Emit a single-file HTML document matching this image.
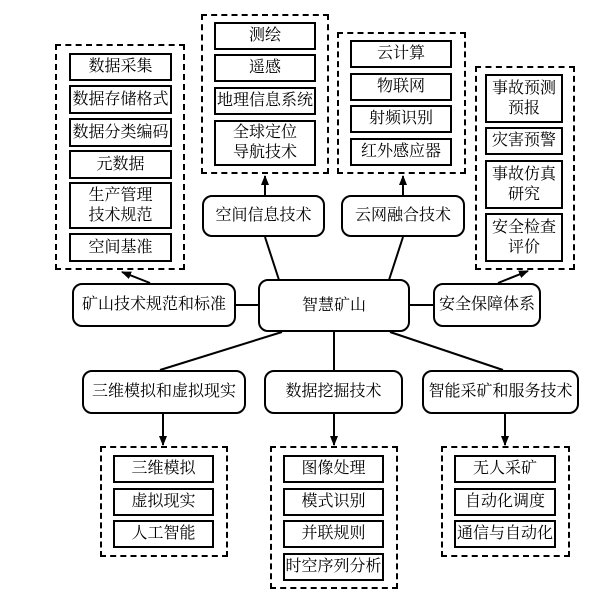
<!DOCTYPE html>
<html><head><meta charset="utf-8"><style>
body{margin:0;width:613px;height:597px;background:#fff;position:relative;overflow:hidden;font-family:"Liberation Serif","Noto Serif CJK SC",serif;color:#000}
.b{position:absolute;box-sizing:border-box;border:2px solid #000;display:flex;align-items:center;justify-content:center;text-align:center;font-size:16px;line-height:20px;background:#fff;white-space:nowrap}
.r{border-radius:10px;border-width:2px}
.d{position:absolute;box-sizing:border-box;border:2px dashed #000}
svg{position:absolute;left:0;top:0}
</style></head><body>
<svg width="613" height="597"><defs><marker id="a" markerWidth="10" markerHeight="10" refX="9" refY="5" orient="auto" markerUnits="userSpaceOnUse"><path d="M0,1 L10,5 L0,9z"/></marker></defs>
<g stroke="#000" stroke-width="2" fill="none">
<line x1="265" y1="195" x2="265" y2="176" marker-end="url(#a)"/>
<line x1="403" y1="195" x2="403" y2="176" marker-end="url(#a)"/>
<line x1="265" y1="237" x2="279" y2="280"/>
<line x1="403" y1="237" x2="389" y2="280"/>
<line x1="236" y1="305" x2="258" y2="305"/>
<line x1="410" y1="305" x2="433" y2="305"/>
<line x1="150" y1="283" x2="122" y2="272" marker-end="url(#a)"/>
<line x1="498" y1="283" x2="528" y2="271" marker-end="url(#a)"/>
<line x1="282" y1="332" x2="160" y2="370"/>
<line x1="334" y1="332" x2="334" y2="370"/>
<line x1="390" y1="332" x2="503" y2="370"/>
<line x1="163" y1="414" x2="163" y2="445" marker-end="url(#a)"/>
<line x1="334" y1="414" x2="334" y2="445" marker-end="url(#a)"/>
<line x1="505" y1="414" x2="505" y2="445" marker-end="url(#a)"/>
</g></svg>

<div class="d" style="left:55px;top:44px;width:130px;height:226px"></div>
<div class="b" style="left:69px;top:53px;width:103px;height:28px">数据采集</div>
<div class="b" style="left:69px;top:85px;width:103px;height:29px">数据存储格式</div>
<div class="b" style="left:69px;top:118px;width:103px;height:29px">数据分类编码</div>
<div class="b" style="left:69px;top:150px;width:103px;height:29px">元数据</div>
<div class="b" style="left:69px;top:182px;width:103px;height:47px">生产管理<br>技术规范</div>
<div class="b" style="left:69px;top:233px;width:103px;height:29px">空间基准</div>

<div class="d" style="left:201px;top:14px;width:128px;height:160px"></div>
<div class="b" style="left:214px;top:22px;width:102px;height:28px">测绘</div>
<div class="b" style="left:214px;top:54px;width:102px;height:28px">遥感</div>
<div class="b" style="left:214px;top:87px;width:102px;height:28px">地理信息系统</div>
<div class="b" style="left:214px;top:120px;width:102px;height:46px">全球定位<br>导航技术</div>

<div class="d" style="left:337px;top:32px;width:129px;height:142px"></div>
<div class="b" style="left:350px;top:40px;width:102px;height:28px">云计算</div>
<div class="b" style="left:350px;top:73px;width:102px;height:28px">物联网</div>
<div class="b" style="left:350px;top:105px;width:102px;height:28px">射频识别</div>
<div class="b" style="left:350px;top:138px;width:102px;height:28px">红外感应器</div>

<div class="d" style="left:475px;top:66px;width:100px;height:204px"></div>
<div class="b" style="left:485px;top:74px;width:78px;height:49px">事故预测<br>预报</div>
<div class="b" style="left:485px;top:127px;width:78px;height:28px">灾害预警</div>
<div class="b" style="left:485px;top:160px;width:78px;height:49px">事故仿真<br>研究</div>
<div class="b" style="left:485px;top:213px;width:78px;height:49px">安全检查<br>评价</div>

<div class="b r" style="left:202px;top:195px;width:123px;height:42px">空间信息技术</div>
<div class="b r" style="left:341px;top:195px;width:124px;height:42px">云网融合技术</div>
<div class="b r" style="left:258px;top:279px;width:152px;height:53px">智慧矿山</div>
<div class="b r" style="left:72px;top:283px;width:164px;height:44px">矿山技术规范和标准</div>
<div class="b r" style="left:433px;top:283px;width:108px;height:44px">安全保障体系</div>

<div class="b r" style="left:82px;top:370px;width:164px;height:44px">三维模拟和虚拟现实</div>
<div class="b r" style="left:264px;top:370px;width:139px;height:44px">数据挖掘技术</div>
<div class="b r" style="left:422px;top:370px;width:157px;height:44px">智能采矿和服务技术</div>

<div class="d" style="left:100px;top:446px;width:128px;height:111px"></div>
<div class="b" style="left:113px;top:455px;width:101px;height:28px">三维模拟</div>
<div class="b" style="left:113px;top:488px;width:101px;height:28px">虚拟现实</div>
<div class="b" style="left:113px;top:520px;width:101px;height:28px">人工智能</div>

<div class="d" style="left:270px;top:446px;width:128px;height:143px"></div>
<div class="b" style="left:283px;top:455px;width:101px;height:28px">图像处理</div>
<div class="b" style="left:283px;top:488px;width:101px;height:28px">模式识别</div>
<div class="b" style="left:283px;top:520px;width:101px;height:28px">并联规则</div>
<div class="b" style="left:283px;top:553px;width:101px;height:28px">时空序列分析</div>

<div class="d" style="left:441px;top:446px;width:129px;height:111px"></div>
<div class="b" style="left:454px;top:455px;width:102px;height:28px">无人采矿</div>
<div class="b" style="left:454px;top:488px;width:102px;height:28px">自动化调度</div>
<div class="b" style="left:454px;top:520px;width:102px;height:28px">通信与自动化</div>
</body></html>
